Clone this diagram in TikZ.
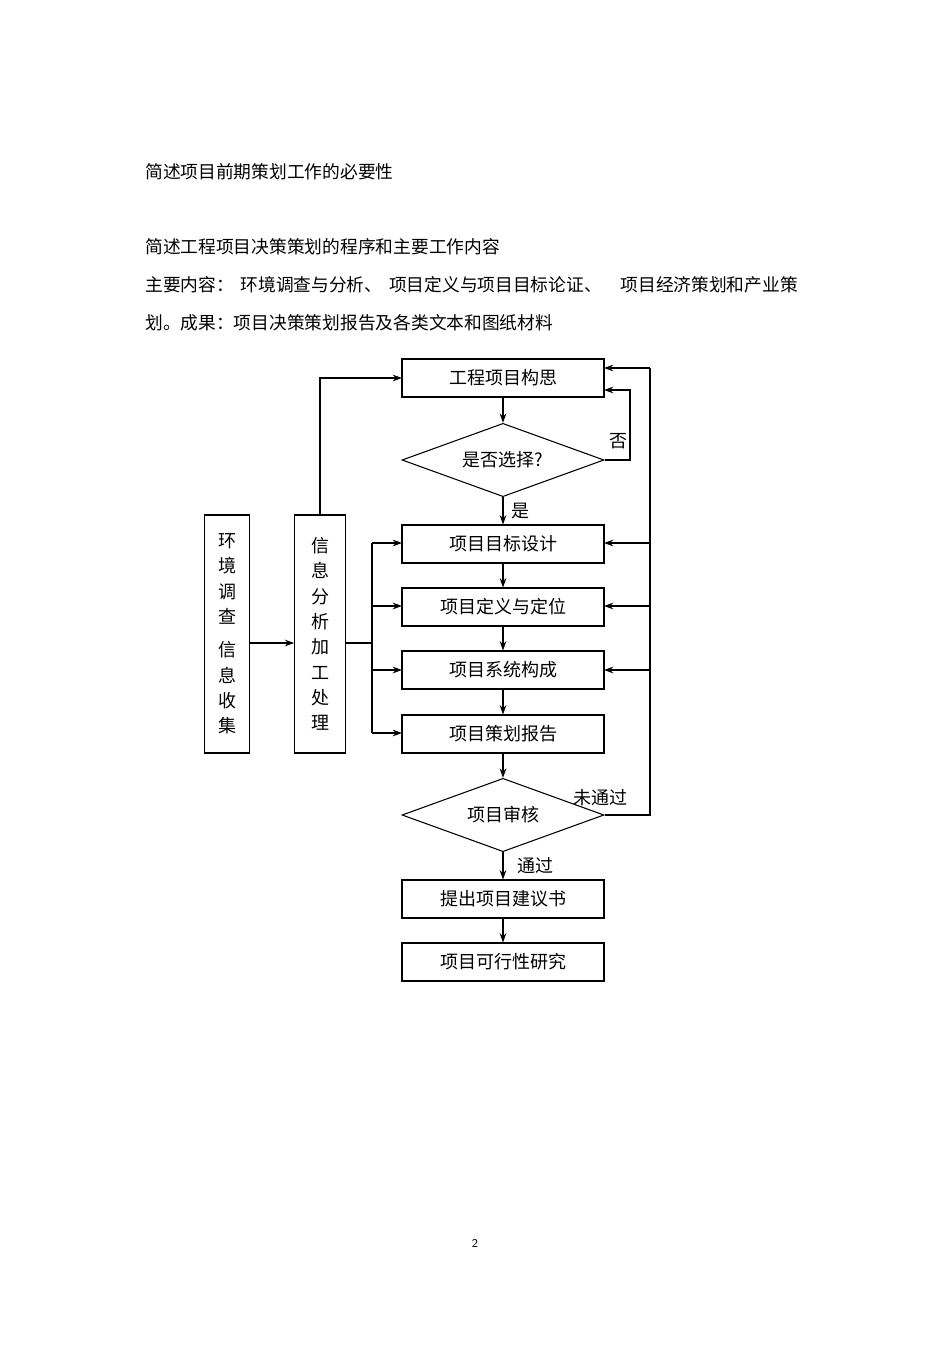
\documentclass[tikz,border=0pt]{standalone}
\usepackage{fontspec}
\newfontfamily\cjk{Noto Sans CJK SC}
\usetikzlibrary{shapes.geometric,arrows.meta}
\begin{document}
\begin{tikzpicture}[x=0.75pt,y=-0.75pt,
  box/.style={draw,line width=0.8pt,minimum width=151.5pt,minimum height=28.5pt,font=\cjk\fontsize{13.5}{16}\selectfont,inner sep=0pt},
  dia/.style={draw,diamond,aspect=2.76,line width=0.8pt,minimum width=151.5pt,minimum height=55pt,inner sep=0pt,font=\cjk\fontsize{13.5}{16}\selectfont},
  vbox/.style={draw,line width=0.8pt,minimum height=178.5pt,font=\cjk\fontsize{13.5}{19}\selectfont,align=center,inner sep=0pt},
  lbl/.style={font=\cjk\fontsize{13.5}{16}\selectfont,inner sep=0pt},
  txt/.style={font=\cjk\fontsize{13.3}{15}\selectfont,anchor=west,inner sep=0pt},
  arr/.style={-{Stealth[length=7pt,width=5pt]},line width=0.8pt},
  ln/.style={line width=0.8pt}]
\useasboundingbox (0,0) rectangle (950,1345);
\node[txt] (t1) at (145,172) {简述项目前期策划工作的必要性};
\node[txt] (t2) at (145,247) {简述工程项目决策策划的程序和主要工作内容};
\node[txt] (t3) at (145,285) {主要内容：\hspace{5pt}环境调查与分析、\hspace{5pt}项目定义与项目目标论证、\hspace{14pt}项目经济策划和产业策};
\node[txt] (t4) at (145,323) {划。成果：项目决策策划报告及各类文本和图纸材料};
\node[box] (b1) at (503,378) {工程项目构思};
\node[dia] (d1) at (503,460) {是否选择?};
\node[box] (b2) at (503,544) {项目目标设计};
\node[box] (b3) at (503,607) {项目定义与定位};
\node[box] (b4) at (503,670) {项目系统构成};
\node[box] (b5) at (503,734) {项目策划报告};
\node[dia] (d2) at (503,815) {项目审核};
\node[box] (b6) at (503,899) {提出项目建议书};
\node[box] (b7) at (503,962) {项目可行性研究};
\node[vbox,minimum width=34pt] (v1) at (227,634) {环\\境\\调\\查\\[6pt]信\\息\\收\\集};
\node[vbox,minimum width=38pt] (v2) at (320,634) {信\\息\\分\\析\\加\\工\\处\\理};
\draw[arr] (b1) -- (d1);
\draw[arr] (d1) -- (b2);
\draw[arr] (b2) -- (b3);
\draw[arr] (b3) -- (b4);
\draw[arr] (b4) -- (b5);
\draw[arr] (b5) -- (d2);
\draw[arr] (d2) -- (b6);
\draw[arr] (b6) -- (b7);
\node[lbl] (no1) at (618,441) {否};
\node[lbl] (yes1) at (520,511) {是};
\node[lbl] (no2) at (600,798) {未通过};
\node[lbl] (yes2) at (535,866) {通过};
\draw[arr] (d1.east) -- (630,460) |- (604,390);
\coordinate (r) at (650,815);
\draw[ln] (d2.east) -- (r) -- (650,368);
\draw[arr] (650,368) -- (604,368);
\draw[arr] (650,543) -- (604,543);
\draw[arr] (650,606) -- (604,606);
\draw[arr] (650,670) -- (604,670);
\draw[arr] (v1.east |- 0,643) -- (v2.west |- 0,643);
\draw[ln] (v2.east |- 0,643) -- (372,643);
\draw[ln] (372,543) -- (372,733);
\draw[arr] (372,543) -- (402,543);
\draw[arr] (372,606) -- (402,606);
\draw[arr] (372,670) -- (402,670);
\draw[arr] (372,733) -- (402,733);
\draw[arr] (v2.north) -- (320,378) -- (402,378);
\node[font=\sffamily\fontsize{9}{10}\selectfont] (pg) at (475,1243) {2};
\end{tikzpicture}
\end{document}
